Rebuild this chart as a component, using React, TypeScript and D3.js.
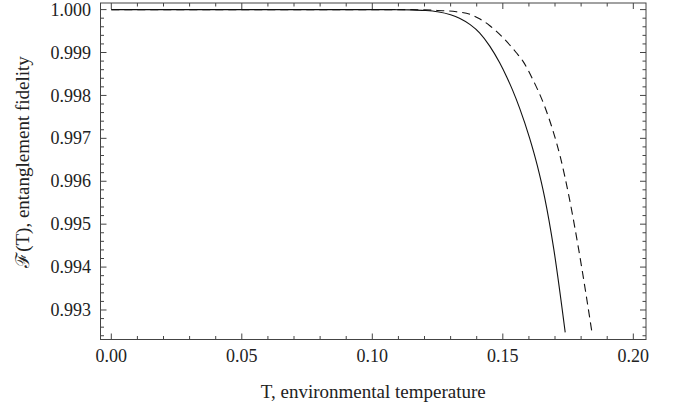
import React from "react";
import * as d3 from "d3";

// values
const tSolid = [0, 0.05, 0.1, 0.11, 0.115, 0.12, 0.125, 0.13, 0.1334, 0.1375, 0.1411, 0.145, 0.1488, 0.1515, 0.1537, 0.1564, 0.1603, 0.1632, 0.166, 0.1695, 0.1739];
const fSolid = [1.0, 1.0, 1.0, 0.999998, 0.999993, 0.99998, 0.99995, 0.99988, 0.9998, 0.99965, 0.99946, 0.99915, 0.99876, 0.99843, 0.99813, 0.99771, 0.997, 0.99637, 0.99563, 0.99443, 0.99248];

const tDashed = [0, 0.05, 0.1, 0.115, 0.12, 0.125, 0.1322, 0.1375, 0.1407, 0.1449, 0.15, 0.1551, 0.1577, 0.1615, 0.166, 0.1691, 0.1721, 0.1755, 0.1791, 0.1841];
const fDashed = [1.0, 1.0, 1.0, 0.999999, 0.999995, 0.99998, 0.99995, 0.99989, 0.9998, 0.99963, 0.99935, 0.999, 0.9988, 0.99837, 0.99775, 0.9972, 0.99655, 0.9956, 0.9944, 0.9925];

const xTicks = [0, 0.05, 0.1, 0.15, 0.2];
const yTicks = [1.0, 0.999, 0.998, 0.997, 0.996, 0.995, 0.994, 0.993];

const xTitle = "T, environmental temperature";
const yTitle = "ℱ(T), entanglement fidelity";

const W = 676;
const H = 410;
const frame = { left: 100.5, right: 646, top: 3, bottom: 339.5 };
const serif = "Liberation Serif, Times New Roman, DejaVu Serif, serif";
const tickStyle = { fontFamily: serif, fontSize: "18px" };
const titleStyle = { fontFamily: serif, fontSize: "19px" };

export default function App() {
  const x = d3.scaleLinear().domain([-0.00414, 0.20486]).range([frame.left, frame.right]);
  const y = d3.scaleLinear().domain([0.9923125, 1.0001538]).range([frame.bottom, frame.top]);

  const line = d3
    .line<[number, number]>()
    .x((d) => x(d[0]))
    .y((d) => y(d[1]))
    .curve(d3.curveMonotoneX);

  const solid = tSolid.map((t, i) => [t, fSolid[i]] as [number, number]);
  const dashed = tDashed.map((t, i) => [t, fDashed[i]] as [number, number]);

  // minor ticks
  const xMinor = d3.range(0, 0.2001, 0.01).filter((v) => x(v) >= frame.left && x(v) <= frame.right);
  const yMinor = d3.range(0.9924, 1.00011, 0.0002).filter((v) => y(v) >= frame.top && y(v) <= frame.bottom);

  const fx = d3.format(".2f");
  const fy = d3.format(".3f");
  const tickColor = "#444";

  return (
    <svg width={W} height={H} style={{ position: "absolute", left: 0, top: 0, background: "#fff" }}>
      <g stroke={tickColor} strokeWidth={1}>
        {xMinor.map((v, i) => {
          const major = xTicks.some((t) => Math.abs(t - v) < 1e-6);
          const len = major ? 6 : 3.5;
          return (
            <g key={"xm" + i}>
              <line x1={x(v)} x2={x(v)} y1={frame.bottom} y2={frame.bottom - len} />
              <line x1={x(v)} x2={x(v)} y1={frame.top} y2={frame.top + len} />
            </g>
          );
        })}
        {yMinor.map((v, i) => {
          const major = yTicks.some((t) => Math.abs(t - v) < 1e-7);
          const len = major ? 6 : 3.5;
          return (
            <g key={"ym" + i}>
              <line x1={frame.left} x2={frame.left + len} y1={y(v)} y2={y(v)} />
              <line x1={frame.right} x2={frame.right - len} y1={y(v)} y2={y(v)} />
            </g>
          );
        })}
        <rect
          x={frame.left}
          y={frame.top}
          width={frame.right - frame.left}
          height={frame.bottom - frame.top}
          fill="none"
        />
      </g>

      <path d={line(solid) || ""} fill="none" stroke="#111" strokeWidth={1.1} />
      <path d={line(dashed) || ""} fill="none" stroke="#111" strokeWidth={1.1} strokeDasharray="8,5" />

      <g fill="#222">
        {xTicks.map((t) => (
          <text key={"xt" + t} x={x(t)} y={362.3} textAnchor="middle" style={tickStyle}>
            {fx(t)}
          </text>
        ))}
        {yTicks.map((t) => (
          <text key={"yt" + t} x={91} y={y(t)} dy="0.34em" textAnchor="end" style={tickStyle}>
            {fy(t)}
          </text>
        ))}
        <text x={(frame.left + frame.right) / 2} y={397.5} textAnchor="middle" style={titleStyle}>
          {xTitle}
        </text>
        <text transform="translate(29,162) rotate(-90)" textAnchor="middle" style={titleStyle}>
          {yTitle}
        </text>
      </g>
    </svg>
  );
}
